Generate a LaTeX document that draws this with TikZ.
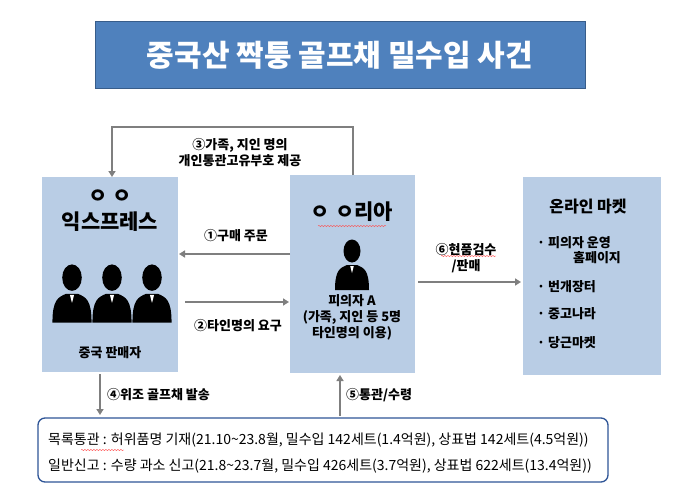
\documentclass[tikz,border=0pt]{standalone}
\usepackage{fontspec}
\setmainfont{Noto Sans CJK KR}
\usetikzlibrary{arrows.meta,decorations.pathmorphing}
\definecolor{boxfill}{HTML}{B9CDE5}
\definecolor{titlefill}{HTML}{4F81BD}
\definecolor{titledraw}{HTML}{385D8A}
\definecolor{arr}{HTML}{7F7F7F}
\definecolor{bdark}{HTML}{2F5597}
\tikzset{
 conn/.style={draw=arr,line width=1.6pt,-{Triangle[length=6pt,width=7pt]}},
 lab/.style={font=\bfseries\fontsize{13}{16}\selectfont,align=center,inner sep=1pt},
 big/.style={font=\bfseries\fontsize{21}{24}\selectfont,inner sep=1pt},
 squig/.style={red!70,line width=0.4pt,decorate,decoration={snake,amplitude=0.6pt,segment length=3pt}},
 person/.pic={
   \fill[black] (0,11) ellipse (8.5 and 11.5);
   \fill[black] (-17,50) .. controls (-17,30) and (-12,28) .. (-5,25) -- (5,25) .. controls (12,28) and (17,30) .. (17,50) -- cycle;
   \fill[white] (-1.8,26) -- (1.8,26) -- (0,33) -- cycle;
 }
}
\begin{document}
\begin{tikzpicture}[x=1pt,y=-1pt]
\useasboundingbox (0,0) rectangle (680,495);
\fill[white] (0,0) rectangle (680,495);
% title
\node[draw=titledraw,line width=1pt,fill=titlefill,minimum width=490pt,minimum height=66pt,text=white,font=\bfseries\fontsize{30}{34}\selectfont] (title) at (340,55) {중국산 짝퉁 골프채 밀수입 사건};
% panels
\fill[boxfill] (42,177) rectangle (178,372);
\fill[boxfill] (290,175) rectangle (415,373);
\fill[boxfill] (523,177) rectangle (661,375);
\node[big] (lt1) at (110,197) {ㅇ ㅇ};
\node[big] (lt2) at (110,222) {익스프레스};
\node[lab] (lt3) at (110,353) {중국 판매자};
\node[big] (mt) at (352,212) {ㅇ ㅇ리아};
\draw[squig] (318,226) -- (386,226);
\node[lab] (mt2) at (352,317) {피의자 A\\(가족, 지인 등 5명\\타인명의 이용)};
\node[lab,font=\bfseries\fontsize{16}{18}\selectfont] (rt) at (588,207) {온라인 마켓};
\node[lab,anchor=west] (r1) at (536,243) {· 피의자 운영};
\node[lab] (r1b) at (597,258) {홈페이지};
\node[lab,anchor=west] (r2) at (536,287) {· 번개장터};
\node[lab,anchor=west] (r3) at (536,314) {· 중고나라};
\node[lab,anchor=west] (r4) at (536,343) {· 당근마켓};
% people
\pic[scale=1.15] at (72,265) {person};
\pic[scale=1.15] at (112,265) {person};
\pic[scale=1.15] at (152,265) {person};
\pic at (352,240) {person};
% bottom box
\node[draw=bdark,line width=1.3pt,rounded corners=7pt,fill=white,minimum width=570pt,minimum height=64pt] (bot) at (323,450) {};
\node[anchor=west,font=\fontsize{14}{16}\selectfont,inner sep=0] (b1) at (48,440) {목록통관 : 허위품명 기재(21.10\textasciitilde23.8월, 밀수입 142세트(1.4억원), 상표법 142세트(4.5억원))};
\draw[squig] (81,450) -- (124,450);
\node[anchor=west,font=\fontsize{14}{16}\selectfont,inner sep=0] (b2) at (48,466) {일반신고 : 수량 과소 신고(21.8\textasciitilde23.7월, 밀수입 426세트(3.7억원), 상표법 622세트(13.4억원))};
% arrows
\coordinate (m1) at (290,254); \coordinate (l1) at (179,254);
\draw[conn] (m1) -- (l1);
\node[lab] at (236,236) {①구매 주문};
\coordinate (l2) at (185,302); \coordinate (m2) at (289,302);
\draw[conn] (l2) -- (m2);
\node[lab] at (238,326) {②타인명의 요구};
\coordinate (mtop) at (353,175); \coordinate (ltop) at (112,177);
\draw[conn] (mtop) -- (353,127) -- (112,127) -- (ltop);
\node[lab] at (240,153) {③가족, 지인 명의\\개인통관고유부호 제공};
\coordinate (r6a) at (418,282); \coordinate (r6b) at (521,282);
\draw[conn] (r6a) -- (r6b);
\node[lab] at (466,258) {⑥현품검수\\/판매};
\draw[squig] (441,256) -- (496,256);
\coordinate (l4) at (100,374); \coordinate (b4) at (100,415);
\draw[conn] (l4) -- (b4);
\node[lab,anchor=west] at (106,395) {④위조 골프채 발송};
\coordinate (b5) at (340,416); \coordinate (m5) at (340,375);
\draw[conn] (b5) -- (m5);
\node[lab,anchor=west] at (345,395) {⑤통관/수령};
\end{tikzpicture}
\end{document}
